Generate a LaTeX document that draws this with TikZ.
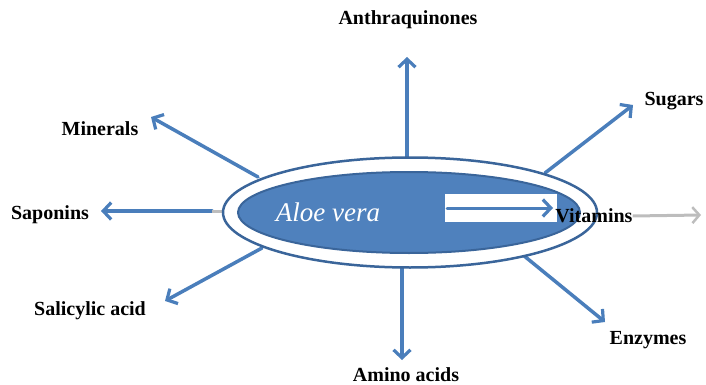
\documentclass[tikz,border=0pt]{standalone}
\usepackage{fontspec}
\setmainfont{Liberation Serif}
\usetikzlibrary{arrows.meta}
\definecolor{aloeblue}{HTML}{4F81BD}
\definecolor{aloeedge}{HTML}{3A659A}
\definecolor{arrowblue}{HTML}{4A7EBB}
\definecolor{fadegray}{HTML}{BDBDBD}
\tikzset{
	label/.style={font=\fontsize{20}{24}\selectfont\bfseries, inner sep=0pt},
	ray/.style={arrowblue, line width=3.5pt, line cap=round, -{Straight Barb[length=8pt, width=17pt, line width=3.2pt]}},
}
\begin{document}
\begin{tikzpicture}[x=1pt, y=-1pt, line join=round]
				\useasboundingbox (0,0) rectangle (706,385);
				% tips of the arrows
				\coordinate (tA) at (407,57);
				\coordinate (tS) at (633,105);
				\coordinate (tM) at (151,117);
				\coordinate (tP) at (101,211);
				\coordinate (tC) at (165,301);
				\coordinate (tN) at (402,360);
				\coordinate (tE) at (605,322);
				% starts on the ring
				\coordinate (sA) at (407,158);
				\coordinate (sS) at (545,173);
				\coordinate (sM) at (258,177);
				\coordinate (sP) at (212,211);
				\coordinate (sC) at (262,248);
				\coordinate (sN) at (402,268);
				\coordinate (sE) at (523,255);
				\node[label] (anthra) at (408,20) {Anthraquinones};
				\node[label] (sugars) at (674,101) {Sugars};
				\node[label] (minerals) at (100,129) {Minerals};
				\node[label] (saponins) at (50,215) {Saponins};
				\node[label] (salicylic) at (90,311) {Salicylic acid};
				\node[label] (amino) at (406,375) {Amino acids};
				\node[label] (enzymes) at (648,340) {Enzymes};
				\draw[ray] (sA)--(tA);
				\draw[ray] (sS)--(tS);
				\draw[ray] (sM)--(tM);
				\draw[ray] (sP)--(tP);
				\draw[ray] (sC)--(tC);
				\draw[ray] (sN)--(tN);
				\draw[ray] (sE)--(tE);
				\draw[fadegray, line width=3pt] (sP)--(222,211);
				% the two rings
				\draw[aloeedge, line width=2.5pt, fill=white] (410,212.5) ellipse [x radius=187, y radius=55];
				\draw[aloeedge, line width=2pt, fill=aloeblue] (409,212.5) ellipse [x radius=171, y radius=40.5];
				\node[white, font=\fontsize{27}{30}\selectfont\itshape] (aloe) at (328,212) {Aloe vera};
				% the vitamins arrow
				\fill[white] (445,194) rectangle (557,222);
				\coordinate (sV) at (447,208);
				\coordinate (tV) at (553,208);
				\draw[ray, line width=3pt] (sV)--(tV);
				\node[label] (vitamins) at (594,216) {Vitamins};
				\coordinate (tG) at (701,215);
				\draw[fadegray, line width=3pt, -{Straight Barb[length=7pt, width=16pt, line width=2.5pt]}] (vitamins.east)--(tG);
\end{tikzpicture}
\end{document}
